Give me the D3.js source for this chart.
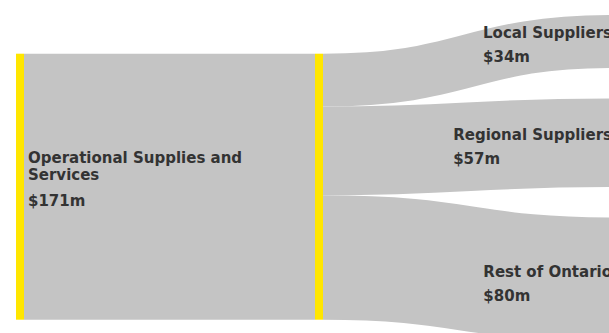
<!DOCTYPE html>
<html>
<head>
<meta charset="utf-8">
<script src="https://cdn.jsdelivr.net/npm/d3@7"></script>
<style>
body { margin: 0; background: #fff; overflow: hidden; }
svg { display: block; }
text { font-family: "DejaVu Sans", sans-serif; font-weight: bold; font-size: 15px; fill: #333; }
</style>
</head>
<body>
<div id="chart"></div>
<script>
// data
const sourceName = "Operational Supplies and Services";
const supplierNames = ["Local Suppliers", "Regional Suppliers", "Rest of Ontario"];
const supplierValues = [34, 57, 80];

const width = 609, height = 333;
const nodeWidth = 8, nodePadding = 30.5;
const extentTop = 15, extentBottom = 342;

const fmt = v => "$" + v + "m";
const total = d3.sum(supplierValues);

// column positions (3 columns, last one partly off the page)
const x = d3.scaleLinear()
    .domain([0, 2])
    .range([16, 614]);

// value -> band height
const ky = (extentBottom - extentTop - (supplierValues.length - 1) * nodePadding) / total;
const h = d3.scaleLinear()
    .domain([0, total])
    .range([0, total * ky]);

// right column nodes stacked from the top
let yy = extentTop;
const targets = supplierNames.map((name, i) => {
    const n = {name: name, value: supplierValues[i], x0: x(2), x1: x(2) + nodeWidth, y0: yy, y1: yy + h(supplierValues[i])};
    yy = n.y1 + nodePadding;
    return n;
});

// middle node placed where its links are straightest (weighted like sankey relaxation)
let off = 0, acc = 0;
targets.forEach(t => {
    acc += (t.y0 - h(off)) * t.value;
    t.srcOff = off;
    off += t.value;
});
const midY0 = acc / total;
const mid = {x0: x(1), x1: x(1) + nodeWidth, y0: midY0, y1: midY0 + h(total)};
const first = {name: sourceName, value: total, x0: x(0), x1: x(0) + nodeWidth, y0: midY0, y1: midY0 + h(total)};

const svg = d3.select("#chart").append("svg")
    .attr("width", width)
    .attr("height", height);

const link = d3.linkHorizontal();

// straight band between first two columns
svg.append("path")
    .attr("d", link({source: [first.x1, (first.y0 + first.y1) / 2], target: [mid.x0, (mid.y0 + mid.y1) / 2]}))
    .attr("fill", "none")
    .attr("stroke", "#c4c4c4")
    .attr("stroke-width", h(total));

svg.selectAll(".link").data(targets).enter()
    .append("path")
    .attr("class", "link")
    .attr("d", d => link({
        source: [mid.x1, mid.y0 + h(d.srcOff) + h(d.value) / 2],
        target: [d.x0, (d.y0 + d.y1) / 2]
    }))
    .attr("fill", "none")
    .attr("stroke", "#c4c4c4")
    .attr("stroke-width", d => h(d.value));

svg.selectAll(".node").data([first, mid].concat(targets)).enter()
    .append("rect")
    .attr("class", "node")
    .attr("x", d => d.x0)
    .attr("y", d => d.y0)
    .attr("width", nodeWidth)
    .attr("height", d => d.y1 - d.y0)
    .attr("fill", "#ffe600");

// left label, wrapped
const lx = first.x1 + 4, lcy = (first.y0 + first.y1) / 2;
const lab = svg.append("text").attr("x", lx);
const words = first.name.split(" ");
let lines = [], cur = [];
words.forEach(w => {
    cur.push(w);
    lab.text(cur.join(" "));
    if (lab.node().getComputedTextLength() > 235 && cur.length > 1) {
        cur.pop();
        lines.push(cur.join(" "));
        cur = [w];
    }
});
lines.push(cur.join(" "));
lab.text(null);
lines.forEach((l, i) => {
    lab.append("tspan").attr("x", lx).attr("y", lcy - 24 + i * 17).text(l);
});
svg.append("text")
    .attr("x", lx)
    .attr("y", lcy - 24 + (lines.length - 1) * 17 + 26)
    .text(fmt(first.value));

// right labels, block ends just left of the node
targets.forEach(t => {
    const cy = (t.y0 + t.y1) / 2;
    const name = svg.append("text")
        .attr("y", cy - 3)
        .text(t.name);
    const sx = t.x0 - 2 - name.node().getComputedTextLength();
    name.attr("x", sx);
    svg.append("text")
        .attr("x", sx)
        .attr("y", cy + 21)
        .text(fmt(t.value));
});
</script>
</body>
</html>
